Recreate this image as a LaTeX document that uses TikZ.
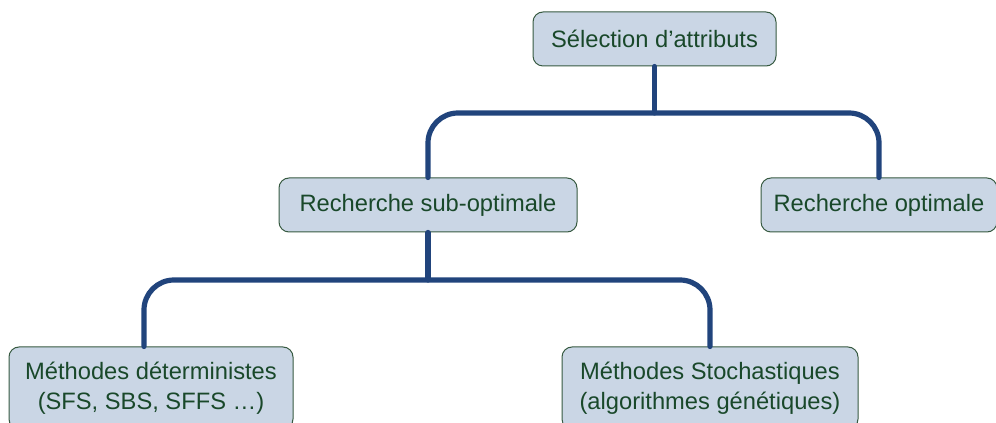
\documentclass[tikz,border=0pt]{standalone}
\usepackage{fontspec}
\setmainfont{Liberation Sans}
\usetikzlibrary{positioning}
\definecolor{boxfill}{RGB}{202,214,229}
\definecolor{boxline}{RGB}{55,90,65}
\definecolor{boxtext}{RGB}{25,72,42}
\definecolor{linkblue}{RGB}{33,68,124}

\begin{document}
\begin{tikzpicture}[x=0.5pt, y=0.5pt,
    box/.style={draw=boxline, fill=boxfill, text=boxtext, rounded corners=5pt, line width=0.5pt, minimum height=27pt, align=center, font=\fontsize{11.85}{15}\selectfont},
    link/.style={draw=linkblue, line width=2.6pt, rounded corners=15pt, line cap=round}]
      \useasboundingbox (0,0) rectangle (996,423);
      \node[box, minimum width=121.5pt] (sel) at (654.5,384) {Sélection d’attributs};
      \node[box, minimum width=149pt] (sub) at (428,218) {Recherche sub-optimale};
      \node[box, minimum width=118pt] (opt) at (879,218) {Recherche optimale};
      \node[box, minimum width=142pt, minimum height=41pt] (det) at (151,35) {Méthodes déterministes\\(SFS, SBS, SFFS …)};
      \node[box, minimum width=148pt, minimum height=41pt] (sto) at (710,35) {Méthodes Stochastiques\\(algorithmes génétiques)};
      \coordinate (bar1) at (654,310);
      \coordinate (bar2) at (428,143);
      \coordinate (detin) at ([xshift=-3.5pt]det.north);
      \draw[link] (sel.south) -- (sel.south |- bar1);
      \draw[link] (sub.north) -- (sub.north |- bar1) -- (opt.north |- bar1) -- (opt.north);
      \draw[link] (sub.south) -- (sub.south |- bar2);
      \draw[link] (detin) -- (detin |- bar2) -- (sto.north |- bar2) -- (sto.north);
    \end{tikzpicture}
\end{document}
